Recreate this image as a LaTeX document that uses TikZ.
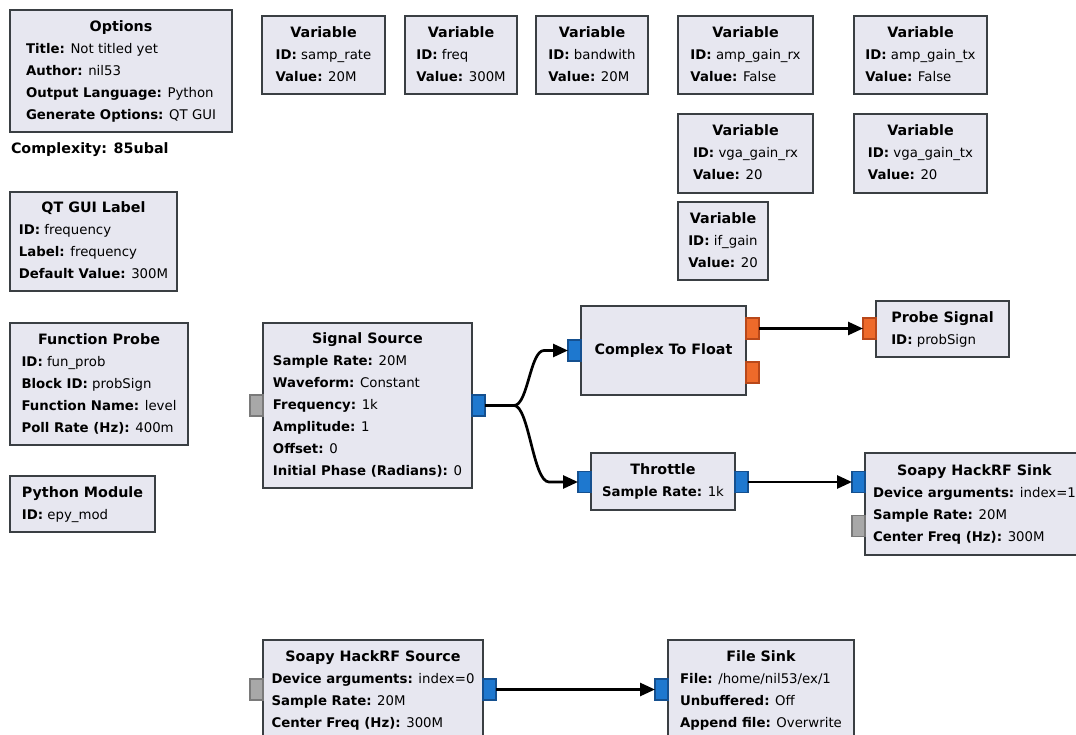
\documentclass[tikz,border=0pt]{standalone}
\usepackage{fontspec}
\setmainfont{DejaVu Sans}
\usetikzlibrary{arrows.meta,calc}
\definecolor{blkfill}{HTML}{E7E7F0}
\definecolor{blkline}{HTML}{3A3F43}
\definecolor{bluep}{HTML}{1E78CF}
\definecolor{bluepl}{HTML}{15508F}
\definecolor{orangep}{HTML}{EE6A2A}
\definecolor{orangepl}{HTML}{B8481A}
\definecolor{grayp}{HTML}{A8A8A8}
\definecolor{graypl}{HTML}{7A7A7A}
\newcommand{\kw}[1]{\textbf{#1}}
\newcommand{\grctab}[2]{\begin{tabular}{@{}l@{}}\multicolumn{1}{@{}c@{}}{\fontsize{14.3}{22}\selectfont\bfseries #1}\\ #2\end{tabular}}
\begin{document}
\begin{tikzpicture}[x=1pt,y=-1pt,
  blk/.style={draw=blkline, fill=blkfill, line width=2.8pt, rectangle, inner sep=0pt, outer sep=0pt},
  prm/.style={inner sep=0pt, outer sep=0pt, font=\fontsize{13.3}{22}\selectfont},
  port/.style={rectangle, minimum width=13pt, minimum height=21pt, line width=1.3pt, inner sep=0pt, outer sep=0pt},
  bport/.style={port, draw=bluepl, fill=bluep},
  oport/.style={port, draw=orangepl, fill=orangep},
  gport/.style={port, draw=graypl, fill=grayp},
  conn/.style={line width=2.7pt, draw=black, -{Triangle[length=15pt,width=13pt]}}]
\clip (0,0) rectangle (1076,735);
\fill[white] (0,0) rectangle (1076,735);

% Options
\node[blk, minimum width=222pt, minimum height=122pt] (opt) at (121,71) {};
\node[prm] (optt) at (opt.center) {\grctab{Options}{\kw{Title:} Not titled yet\\ \kw{Author:} nil53\\ \kw{Output Language:} Python\\ \kw{Generate Options:} QT GUI}};
\node[prm, anchor=west, font=\fontsize{14.3}{18}\selectfont\bfseries] (cplx) at (11,150) {Complexity: 85ubal};

% Variables
\node[blk, minimum width=123pt, minimum height=78pt] (v1) at (323.5,55) {};
\node[prm] (v1t) at (v1.center) {\grctab{Variable}{\kw{ID:} samp\_rate\\ \kw{Value:} 20M}};
\node[blk, minimum width=112pt, minimum height=78pt] (v2) at (461,55) {};
\node[prm] (v2t) at (v2.center) {\grctab{Variable}{\kw{ID:} freq\\ \kw{Value:} 300M}};
\node[blk, minimum width=112pt, minimum height=78pt] (v3) at (592,55) {};
\node[prm] (v3t) at (v3.center) {\grctab{Variable}{\kw{ID:} bandwith\\ \kw{Value:} 20M}};
\node[blk, minimum width=135pt, minimum height=78pt] (v4) at (745.5,55) {};
\node[prm] (v4t) at (v4.center) {\grctab{Variable}{\kw{ID:} amp\_gain\_rx\\ \kw{Value:} False}};
\node[blk, minimum width=133pt, minimum height=78pt] (v5) at (920.5,55) {};
\node[prm] (v5t) at (v5.center) {\grctab{Variable}{\kw{ID:} amp\_gain\_tx\\ \kw{Value:} False}};
\node[blk, minimum width=135pt, minimum height=79pt] (v6) at (745.5,153.5) {};
\node[prm] (v6t) at (v6.center) {\grctab{Variable}{\kw{ID:} vga\_gain\_rx\\ \kw{Value:} 20}};
\node[blk, minimum width=133pt, minimum height=79pt] (v7) at (920.5,153.5) {};
\node[prm] (v7t) at (v7.center) {\grctab{Variable}{\kw{ID:} vga\_gain\_tx\\ \kw{Value:} 20}};
\node[blk, minimum width=90pt, minimum height=78pt] (v8) at (723,241) {};
\node[prm] (v8t) at (v8.center) {\grctab{Variable}{\kw{ID:} if\_gain\\ \kw{Value:} 20}};

% Left column
\node[blk, minimum width=167pt, minimum height=99pt] (qt) at (93.5,241.5) {};
\node[prm] (qtt) at (qt.center) {\grctab{QT GUI Label}{\kw{ID:} frequency\\ \kw{Label:} frequency\\ \kw{Default Value:} 300M}};
\node[blk, minimum width=178pt, minimum height=122pt] (fp) at (99,384) {};
\node[prm] (fpt) at (fp.center) {\grctab{Function Probe}{\kw{ID:} fun\_prob\\ \kw{Block ID:} probSign\\ \kw{Function Name:} level\\ \kw{Poll Rate (Hz):} 400m}};
\node[blk, minimum width=145pt, minimum height=56pt] (pm) at (82.5,504) {};
\node[prm] (pmt) at (pm.center) {\grctab{Python Module}{\kw{ID:} epy\_mod}};

% Signal source
\node[blk, minimum width=209pt, minimum height=165pt] (ss) at (367.5,405.5) {};
\node[prm] (sst) at (ss.center) {\grctab{Signal Source}{\kw{Sample Rate:} 20M\\ \kw{Waveform:} Constant\\ \kw{Frequency:} 1k\\ \kw{Amplitude:} 1\\ \kw{Offset:} 0\\ \kw{Initial Phase (Radians):} 0}};
\node[gport] (ss_in) at (256.5,405.5) {};
\node[bport] (ss_out) at (478.5,405.5) {};

% Complex to float
\node[blk, minimum width=165pt, minimum height=89pt] (ctf) at (663.5,350.5) {};
\node[prm, font=\fontsize{14.3}{22}\selectfont\bfseries] (ctft) at (ctf.center) {Complex To Float};
\node[bport] (ctf_in) at (574.5,350.5) {};
\node[oport] (ctf_o1) at (752.5,328.5) {};
\node[oport] (ctf_o2) at (752.5,372.5) {};

% Probe signal
\node[blk, minimum width=133pt, minimum height=56pt] (ps) at (942.5,329) {};
\node[prm] (pst) at (ps.center) {\grctab{Probe Signal}{\kw{ID:} probSign}};
\node[oport] (ps_in) at (869.5,328.5) {};

% Throttle
\node[blk, minimum width=144pt, minimum height=57pt] (thr) at (663,481.5) {};
\node[prm] (thrt) at (thr.center) {\grctab{Throttle}{\kw{Sample Rate:} 1k}};
\node[bport] (thr_in) at (584.5,482) {};
\node[bport] (thr_out) at (741.5,482) {};

% Soapy HackRF Sink
\node[blk, minimum width=235pt, minimum height=102pt] (snk) at (982.5,504) {};
\node[prm, anchor=west] (snkt) at (873,504) {\grctab{Soapy HackRF Sink}{\kw{Device arguments:} index=1\\ \kw{Sample Rate:} 20M\\ \kw{Center Freq (Hz):} 300M}};
\node[bport] (snk_in) at (858.5,482) {};
\node[gport] (snk_msg) at (858.5,526) {};

% Soapy HackRF Source
\node[blk, minimum width=220pt, minimum height=105pt] (src) at (373,692.5) {};
\node[prm] (srct) at (373,690) {\grctab{Soapy HackRF Source}{\kw{Device arguments:} index=0\\ \kw{Sample Rate:} 20M\\ \kw{Center Freq (Hz):} 300M}};
\node[gport] (src_in) at (256.5,689.5) {};
\node[bport] (src_out) at (489.5,689.5) {};

% File sink
\node[blk, minimum width=186pt, minimum height=105pt] (fs) at (761,692.5) {};
\node[prm] (fst) at (761,690) {\grctab{File Sink}{\kw{File:} /home/nil53/ex/1\\ \kw{Unbuffered:} Off\\ \kw{Append file:} Overwrite}};
\node[bport] (fs_in) at (661.5,689.5) {};

% Connectors
\draw[conn] (ss_out.east) -- ++(29,0) .. controls +(14,0) and +(-14,0) .. ($(ctf_in.west)+(-24,0)$) -- (ctf_in.west);
\draw[conn] (ss_out.east) -- ++(29,0) .. controls +(15,0) and +(-16,0) .. ($(thr_in.west)+(-29,0)$) -- (thr_in.west);
\draw[conn] (ctf_o1.east) -- (ps_in.west);
\draw[conn] (thr_out.east) -- (snk_in.west);
\draw[conn] (src_out.east) -- (fs_in.west);
\end{tikzpicture}
\end{document}
